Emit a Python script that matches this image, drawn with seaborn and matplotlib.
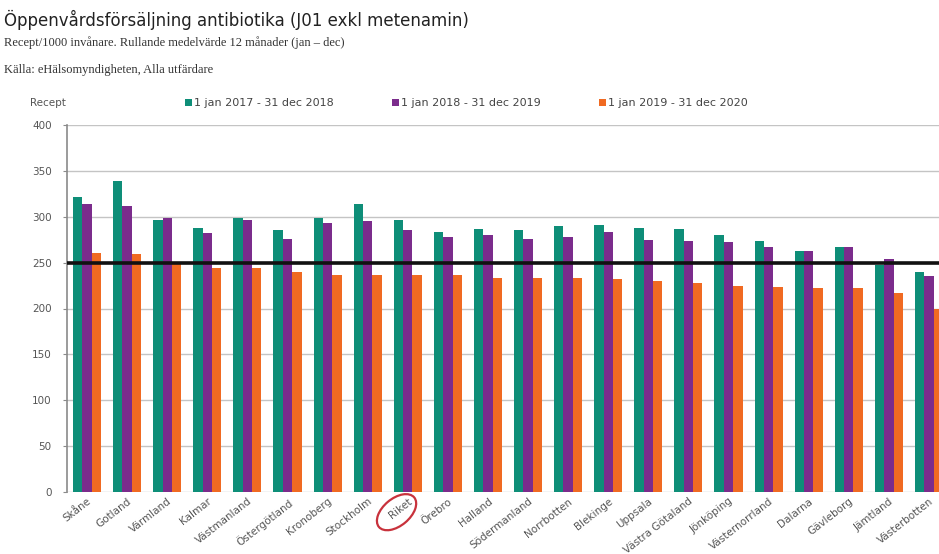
import matplotlib
matplotlib.use("Agg")
import matplotlib.pyplot as plt
import seaborn as sns
import pandas as pd
from matplotlib.patches import Ellipse
from matplotlib.transforms import ScaledTranslation

regions = ["Skåne", "Gotland", "Värmland", "Kalmar", "Västmanland", "Östergötland",
           "Kronoberg", "Stockholm", "Riket", "Örebro", "Halland", "Södermanland",
           "Norrbotten", "Blekinge", "Uppsala", "Västra Götaland", "Jönköping",
           "Västernorrland", "Dalarna", "Gävleborg", "Jämtland", "Västerbotten"]
periods = ["1 jan 2017 - 31 dec 2018", "1 jan 2018 - 31 dec 2019", "1 jan 2019 - 31 dec 2020"]
v2017_2018 = [322, 339, 296, 288, 299, 286, 299, 314, 296, 283, 287, 286,
              290, 291, 288, 287, 280, 274, 263, 267, 247, 240]
v2018_2019 = [314, 312, 299, 282, 296, 276, 293, 295, 286, 278, 280, 276,
              278, 283, 275, 274, 272, 267, 263, 267, 254, 235]
v2019_2020 = [261, 259, 250, 244, 244, 240, 237, 237, 237, 236, 233, 233,
              233, 232, 230, 228, 224, 223, 222, 222, 217, 200]
reference_level = 250
yticks = [0, 50, 100, 150, 200, 250, 300, 350, 400]
colors = ["#0E8E78", "#7B2C8C", "#F06A22"]

df = pd.DataFrame({
    "Län": regions * 3,
    "Period": [periods[0]] * len(regions) + [periods[1]] * len(regions) + [periods[2]] * len(regions),
    "Recept": v2017_2018 + v2018_2019 + v2019_2020,
})

W, H = 939, 554
fig = plt.figure(figsize=(W / 100, H / 100), dpi=100)
fig.patch.set_facecolor("white")
ax = fig.add_axes([67 / W, (H - 492) / H, (W - 67) / W, (492 - 125) / H])

sns.barplot(data=df, x="Län", y="Recept", hue="Period", order=regions,
            hue_order=periods, palette=colors, saturation=1, width=0.7,
            ax=ax, zorder=2)

ax.set_ylim(0, 400)
ax.set_xlim(-0.5, 21.25)
ax.set_yticks(yticks)
ax.yaxis.grid(True, color="#c4c4c4", linewidth=1.0, zorder=0)
ax.set_axisbelow(True)
ax.axhline(reference_level, color="#111111", linewidth=2.6, zorder=3)
for s in ["top", "right", "bottom"]:
    ax.spines[s].set_visible(False)
ax.spines["left"].set_color("#8a8a8a")
ax.spines["left"].set_linewidth(1.2)
ax.tick_params(axis="y", colors="#8a8a8a", labelcolor="#555555", labelsize=7.5,
               length=3, width=0.8, pad=8)
ax.tick_params(axis="x", length=0, labelsize=7.5, labelcolor="#555555", pad=3)
for lbl in ax.get_xticklabels():
    lbl.set_rotation(38)
    lbl.set_ha("right")
    lbl.set_rotation_mode("anchor")
ax.set_xlabel("")
ax.set_ylabel("")

sns.move_legend(ax, loc="center left", bbox_to_anchor=(185 / W, 1 - 103 / H),
                bbox_transform=fig.transFigure, ncol=3, frameon=False, title=None,
                fontsize=8, handlelength=0.6, handleheight=0.6, handletextpad=0.25,
                columnspacing=5.2, borderaxespad=0, borderpad=0)
for t in ax.get_legend().get_texts():
    t.set_color("#444444")

fig.text(30 / W, 1 - 103 / H, "Recept", fontsize=7.5, color="#555555", va="center", ha="left")

fig.text(4 / W, 1 - 20 / H, "Öppenvårdsförsäljning antibiotika (J01 exkl metenamin)",
         fontsize=12, color="#222222", va="center", ha="left")
fig.text(4 / W, 1 - 43 / H, "Recept/1000 invånare. Rullande medelvärde 12 månader (jan – dec)",
         fontsize=9, family="Liberation Serif", color="#333333", va="center", ha="left")
fig.text(4 / W, 1 - 70 / H, "Källa: eHälsomyndigheten, Alla utfärdare",
         fontsize=9, family="Liberation Serif", color="#333333", va="center", ha="left")

riket_idx = regions.index("Riket")
trans = fig.dpi_scale_trans + ScaledTranslation(riket_idx - 0.28, -22, ax.transData)
ell = Ellipse((0, 0), width=0.46, height=0.27, angle=40, transform=trans,
              fill=False, edgecolor="#C8323C", linewidth=1.6, clip_on=False, zorder=5)
fig.add_artist(ell)

fig.savefig("out.png", dpi=100, facecolor="white")
